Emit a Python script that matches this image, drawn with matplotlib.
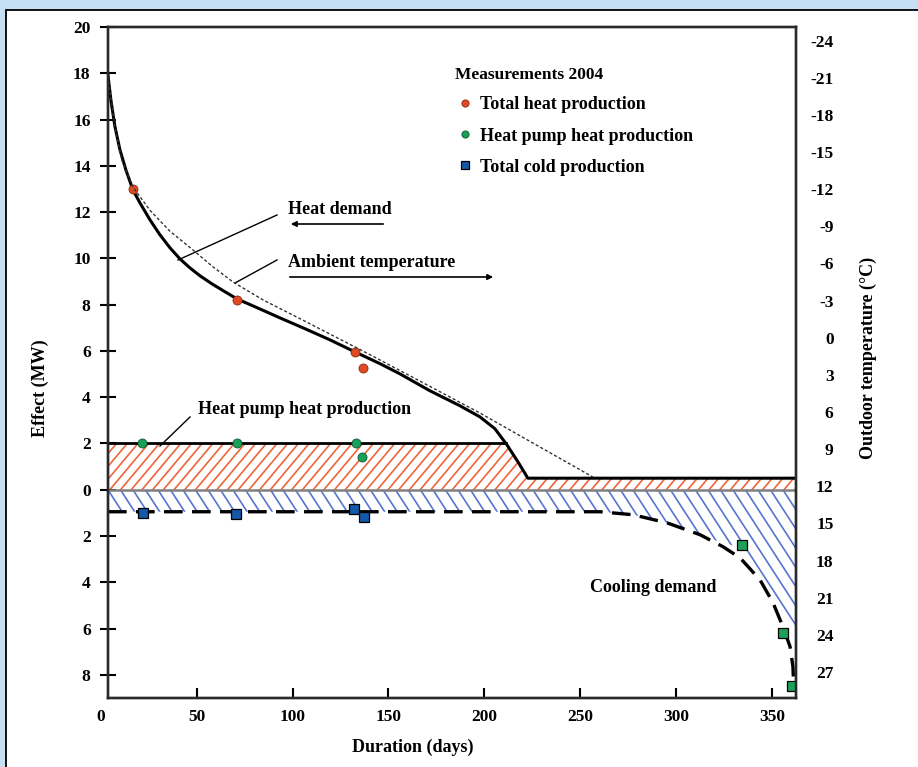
import matplotlib
matplotlib.use('Agg')
import numpy as np
import matplotlib.pyplot as plt
from matplotlib.patches import Rectangle
from matplotlib.collections import LineCollection

plt.rcParams['font.family'] = ['Liberation Serif', 'DejaVu Serif']
plt.rcParams['font.weight'] = 'bold'
plt.rcParams['axes.unicode_minus'] = False

# ---------------- data ----------------
# Heat demand (MW) vs duration (days)
heat_days = [3.8, 5.3, 7.4, 10.0, 13.1, 16.8, 20.44, 25.65, 30.87, 36.08, 41.29, 46.5, 51.72,
             57.97, 64.75, 71.0, 80.4, 93.4, 106.5, 119.5, 132.5, 145.6, 156.0, 171.6, 187.3,
             197.7, 205.5, 211.8, 217.5, 222.7, 362.5]
heat_demand = [17.9, 16.85, 15.7, 14.7, 13.83, 12.96, 12.40, 11.67, 11.02, 10.46, 9.98, 9.59,
               9.25, 8.90, 8.56, 8.25, 7.91, 7.43, 6.96, 6.48, 5.96, 5.45, 5.01, 4.28, 3.63,
               3.15, 2.64, 1.94, 1.21, 0.5, 0.5]

# Heat pump heat production capacity line
hp_capacity = 2.0
hp_line_days = [3.8, 211.3]
hp_line_vals = [2.0, 2.0]

# Ambient temperature (deg C) vs duration (days)
amb_days = [3.8, 7.4, 11.0, 16.8, 25.65, 36.1, 47.5, 58, 69, 84.7, 104.4, 138.8, 166.4,
            197.7, 256.6]
amb_temp = [-21.1, -17.0, -14.35, -12.17, -10.3, -8.6, -7.17, -5.79, -4.5, -3.05, -1.5, 1.24,
            3.5, 6.08, 11.25]

# Cooling demand (MW, negative = cooling)
cool_days = [3.8, 100, 200, 260.3, 277.5, 295.2, 312.4, 324.4, 333.3, 343.7, 350.5, 355.7,
             359.4, 360.9, 361.3]
cool_vals = [-0.95, -0.95, -0.95, -0.95, -1.08, -1.43, -1.94, -2.46, -2.94, -3.89, -4.88,
             -5.92, -6.78, -7.65, -8.5]

# Cold production (hatched area lower edge)
coldprod_days = [3.8, 260.3, 277.5, 295.2, 312.4, 324.4, 334.3, 349, 362.5]
coldprod_vals = [-0.95, -0.95, -1.08, -1.43, -1.94, -2.3, -2.5, -4.3, -6.35]

# Measurements 2004
m_heat_days = [16.8, 71, 132.6, 136.8]
m_heat_vals = [13.0, 8.2, 5.95, 5.27]
m_hp_days = [21.5, 71, 133, 136.4]
m_hp_vals = [2.03, 2.03, 2.03, 1.43]
m_cold_days = [21.9, 70.6, 132.3, 137.2]
m_cold_vals = [-1.0, -1.04, -0.83, -1.16]
m_summer_days = [334.3, 355.7, 360.4]
m_summer_vals = [-2.38, -6.18, -8.5]

# Tick labels
x_ticks = [50, 100, 150, 200, 250, 300, 350]
x_tick_labels = ['50', '100', '150', '200', '250', '300', '350']
y_ticks = [20, 18, 16, 14, 12, 10, 8, 6, 4, 2, 0, -2, -4, -6, -8]
y_tick_labels = ['20', '18', '16', '14', '12', '10', '8', '6', '4', '2', '0', '2', '4', '6', '8']
t_ticks = [-24, -21, -18, -15, -12, -9, -6, -3, 0, 3, 6, 9, 12, 15, 18, 21, 24, 27]
t_tick_labels = [str(t) for t in t_ticks]

# ---------------- figure ----------------
W, H = 918, 767
AX_W, AX_H = 688, 671
fig = plt.figure(figsize=(W / 100, H / 100), dpi=100, facecolor='#c6dff3')
panel = Rectangle((6 / W, -0.05), 1.05, 1 - 10 / H + 0.05, transform=fig.transFigure,
                  facecolor='white', edgecolor='black', lw=1.3, zorder=-10)
fig.patches.append(panel)

ax = fig.add_axes([108 / W, 1 - 698 / H, AX_W / W, AX_H / H])
ax.set_facecolor('white')
ax.set_xlim(3.8, 362.5)
ax.set_ylim(-9, 20)


def hatch_lines(spacing_px, angle_deg, rising):
    """Parallel hatch segments in axes-fraction coordinates (texture only)."""
    run = AX_H / np.tan(np.radians(angle_deg)) / AX_W
    step = spacing_px / AX_W
    segs = []
    for x0 in np.arange(-1.2, 1.2, step):
        if rising:
            segs.append([(x0, 0), (x0 + run, 1)])
        else:
            segs.append([(x0, 1), (x0 + run, 0)])
    return segs


# red hatched area (heat pump production under heat demand)
red_poly = ax.fill_between(heat_days, 0, np.minimum(heat_demand, hp_capacity),
                           facecolor='none', lw=0)
red_lc = LineCollection(hatch_lines(10.7, 50, True), transform=ax.transAxes,
                        colors='#f0643a', linewidths=1.2, zorder=1)
ax.add_collection(red_lc, autolim=False)
red_lc.set_clip_path(red_poly.get_paths()[0], ax.transData)

# blue hatched area (cold production)
blue_poly = ax.fill_between(coldprod_days, coldprod_vals, 0, facecolor='none', lw=0)
blue_lc = LineCollection(hatch_lines(12.5, 57, False), transform=ax.transAxes,
                         colors='#5874d0', linewidths=1.2, zorder=1)
ax.add_collection(blue_lc, autolim=False)
blue_lc.set_clip_path(blue_poly.get_paths()[0], ax.transData)

ax.axhline(0, color='#808080', lw=1.8, zorder=2)
ax.plot(hp_line_days, hp_line_vals, color='black', lw=2.0, zorder=3)
ax.plot(heat_days, heat_demand, color='black', lw=2.2, zorder=3, solid_joinstyle='round')
ax.plot(cool_days, cool_vals, color='black', lw=2.4, dashes=(5.6, 2.8), zorder=3)

h1, = ax.plot(m_heat_days, m_heat_vals, ls='none', marker='o', ms=6.5, mfc='#e04a22',
              mec='#8a2a10', mew=0.6, zorder=5, label='Total heat production')
h2, = ax.plot(m_hp_days, m_hp_vals, ls='none', marker='o', ms=6.5, mfc='#18a058',
              mec='#0a5a30', mew=0.6, zorder=5, label='Heat pump heat production')
h3, = ax.plot(m_cold_days, m_cold_vals, ls='none', marker='s', ms=6.5, mfc='#1458a8',
              mec='black', mew=0.9, zorder=5, label='Total cold production')
ax.plot(m_summer_days, m_summer_vals, ls='none', marker='s', ms=6.5, mfc='#1ca05a',
        mec='black', mew=0.9, zorder=5)

TICK_FS = 12.5
ax.set_xticks(x_ticks)
ax.set_xticklabels(x_tick_labels)
ax.set_yticks(y_ticks)
ax.set_yticklabels(y_tick_labels)
ax.tick_params(axis='y', direction='inout', length=11, width=1.5, pad=7, labelsize=TICK_FS)
ax.tick_params(axis='x', direction='in', length=7, width=1.5, pad=8, labelsize=TICK_FS)
ax.text(0, -0.0283, '0', transform=ax.get_xaxis_transform(), ha='center', va='center',
        fontsize=TICK_FS, clip_on=False)

ax2 = ax.twinx()
ax2.set_ylim(29.1, -25.1)
ax2.plot(amb_days, amb_temp, color='#333333', lw=1.0, ls=(0, (2.2, 1.6)), zorder=2)
ax2.set_yticks(t_ticks)
ax2.set_yticklabels(t_tick_labels)
ax2.tick_params(axis='y', length=0, pad=27, labelsize=TICK_FS)
for lab in ax2.get_yticklabels():
    lab.set_horizontalalignment('right')

for a in (ax, ax2):
    for s in a.spines.values():
        s.set_linewidth(1.7)
        s.set_color('#2a2a2a')

FS = 13
# legend
leg = ax.legend(handles=[h1, h2, h3], title='Measurements 2004', loc='upper left',
                bbox_to_anchor=(0.504, 0.941), frameon=False, fontsize=FS,
                title_fontproperties={'weight': 'bold', 'size': 12.5},
                handlelength=1.1, handletextpad=0.3, labelspacing=0.78,
                alignment='left', borderaxespad=0, borderpad=0, markerscale=0.8)
leg._legend_box.sep = 10


def fx(px):
    return (px - 108) / AX_W


def fy(py):
    return (698 - py) / AX_H


T = ax.transAxes
ax.text(fx(288), fy(210), 'Heat demand', transform=T, ha='left', va='center', fontsize=FS)
ax.annotate('', xy=(fx(288), fy(224)), xytext=(fx(386), fy(224)), xycoords=T, textcoords=T,
            arrowprops=dict(arrowstyle='-|>', color='black', lw=1.2, mutation_scale=8))
ax.plot([fx(277), fx(178)], [fy(215), fy(260)], transform=T, color='black', lw=1.0)

ax.text(fx(288), fy(262), 'Ambient temperature', transform=T, ha='left', va='center', fontsize=FS)
ax.annotate('', xy=(fx(496), fy(277)), xytext=(fx(287), fy(277)), xycoords=T, textcoords=T,
            arrowprops=dict(arrowstyle='-|>', color='black', lw=1.2, mutation_scale=8))
ax.plot([fx(277), fx(235)], [fy(260), fy(283)], transform=T, color='black', lw=1.0)

ax.text(fx(198), fy(410), 'Heat pump heat production', transform=T, ha='left', va='center',
        fontsize=FS)
ax.plot([fx(190), fx(160)], [fy(417), fy(446)], transform=T, color='black', lw=1.0)

ax.text(fx(590), fy(588), 'Cooling demand', transform=T, ha='left', va='center', fontsize=FS)

# axis labels
fig.text(40 / W, 1 - 388 / H, 'Effect (MW)', rotation=90, ha='center', va='center', fontsize=FS)
fig.text(413 / W, 1 - 747 / H, 'Duration (days)', ha='center', va='center', fontsize=FS)
fig.text(868 / W, 1 - 358 / H, 'Outdoor temperature (°C)', rotation=90, ha='center',
         va='center', fontsize=FS)

fig.savefig('out.png', dpi=100, facecolor=fig.get_facecolor())
